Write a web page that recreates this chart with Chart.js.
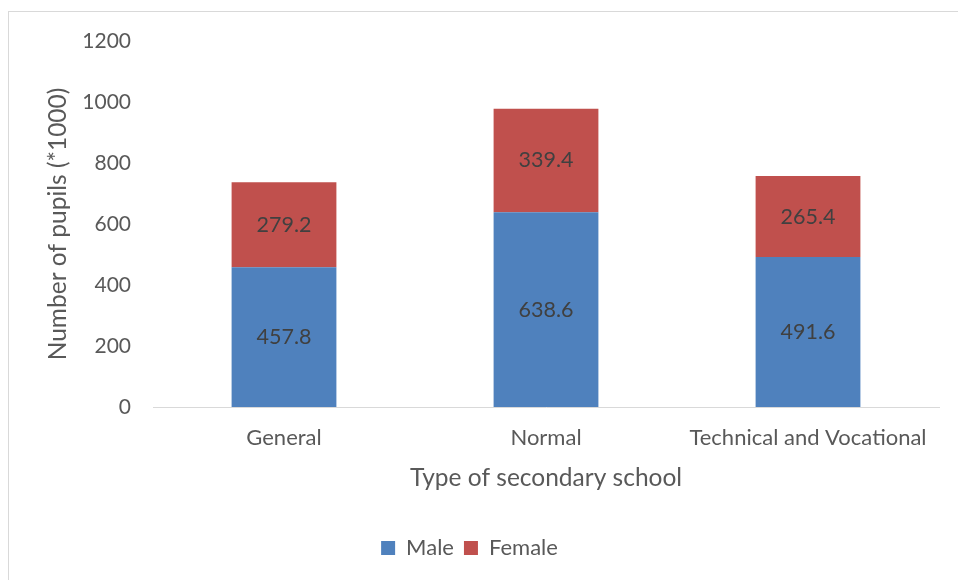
<!DOCTYPE html>
<html>
<head>
<meta charset="utf-8">
<script src="https://cdn.jsdelivr.net/npm/chart.js@4/dist/chart.umd.min.js"></script>
<style>
  html, body { margin: 0; padding: 0; background: #fff; }
  #wrap { width: 958px; height: 580px; position: relative; }
</style>
</head>
<body>
<div id="wrap"><canvas id="chart" width="958" height="580"></canvas></div>
<script>
// данные с картинки
const categories = ['General', 'Normal', 'Technical and Vocational'];
const maleValues = [457.8, 638.6, 491.6];
const femaleValues = [279.2, 339.4, 265.4];
const seriesNames = ['Male', 'Female'];

const TEXT = '#595959';
const FONT = 'Lato';

// рамка вокруг картинки
const framePlugin = {
    id: 'frame',
    beforeDraw(chart) {
        const ctx = chart.ctx;
        ctx.save();
        ctx.fillStyle = '#fff';
        ctx.fillRect(0, 0, chart.width, chart.height);
        ctx.strokeStyle = '#d9d9d9';
        ctx.lineWidth = 1;
        ctx.strokeRect(8.5, 11.5, chart.width + 10, chart.height + 10);
        ctx.restore();
    }
};

// подписи значений по центру столбцов
const valueLabels = {
    id: 'valueLabels',
    afterDatasetsDraw(chart) {
        const ctx = chart.ctx;
        ctx.save();
        ctx.font = `21.5px ${FONT}`;
        ctx.fillStyle = '#404040';
        ctx.textAlign = 'center';
        ctx.textBaseline = 'middle';
        chart.data.datasets.forEach((ds, i) => {
            chart.getDatasetMeta(i).data.forEach((bar, j) => {
                const mid = (bar.y + bar.base) / 2;
                ctx.fillText(ds.data[j].toFixed(1), bar.x, mid);
            });
        });
        ctx.restore();
    }
};

new Chart(document.getElementById('chart'), {
    type: 'bar',
    data: {
        labels: categories,
        datasets: [
            { label: seriesNames[0], data: maleValues, backgroundColor: '#4f81bd' },
            { label: seriesNames[1], data: femaleValues, backgroundColor: '#c0504d' }
        ]
    },
    options: {
        responsive: false,
        animation: false,
        barPercentage: 1,
        categoryPercentage: 0.4,
        layout: { padding: { top: 41, right: 19, bottom: 11, left: 0 } },
        scales: {
            x: {
                stacked: true,
                grid: { display: false, drawTicks: false },
                border: { display: true, color: '#d9d9d9', width: 1 },
                ticks: { color: TEXT, font: { family: FONT, size: 22 }, padding: 18, maxRotation: 0 },
                title: {
                    display: true,
                    text: 'Type of secondary school',
                    color: TEXT,
                    font: { family: FONT, size: 24.5 },
                    padding: { top: 0, bottom: 34 }
                },
                afterFit(scale) { scale.height = 120; }
            },
            y: {
                stacked: true,
                min: 0,
                max: 1200,
                grid: { display: false, drawTicks: false },
                border: { display: false },
                ticks: {
                    stepSize: 200,
                    color: TEXT,
                    font: { family: FONT, size: 21 },
                    padding: 22,
                    callback: v => String(v)
                },
                title: {
                    display: true,
                    text: 'Number of pupils (*1000)',
                    color: TEXT,
                    font: { family: FONT, size: 24.5 },
                    padding: { top: 43, bottom: 0 }
                },
                afterFit(scale) { scale.width = 153; }
            }
        },
        plugins: {
            legend: {
                position: 'bottom',
                labels: {
                    color: TEXT,
                    font: { family: FONT, size: 22 },
                    boxWidth: 14,
                    boxHeight: 14,
                    padding: 10
                }
            },
            tooltip: { enabled: false }
        }
    },
    plugins: [framePlugin, valueLabels]
});
</script>
</body>
</html>
